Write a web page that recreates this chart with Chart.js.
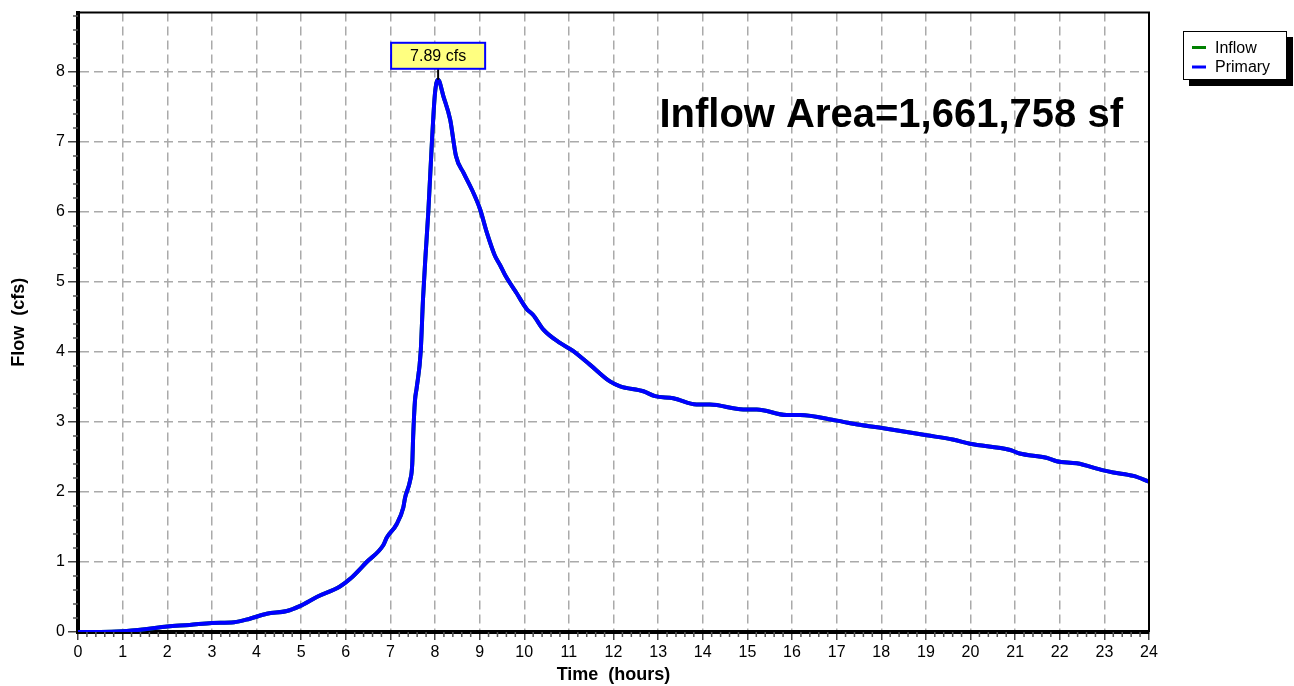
<!DOCTYPE html>
<html>
<head>
<meta charset="utf-8">
<script src="https://cdn.jsdelivr.net/npm/chart.js@4"></script>
<style>
  html, body { margin: 0; background: #fff; }
</style>
</head>
<body>
<canvas id="hydrograph" width="1294" height="686"></canvas>
<script>
// values (hours, cfs)
const hours = [
  0, 0.5, 1.0, 1.5, 2.0, 2.5, 3.0, 3.5, 3.85, 4.23, 4.68, 4.97, 5.35, 5.87, 6.10,
  6.47, 6.84, 6.92, 7.14, 7.29, 7.33, 7.44, 7.49, 7.51, 7.55, 7.59, 7.68, 7.73,
  7.79, 7.85, 7.93, 8.00, 8.07, 8.19, 8.34, 8.47, 8.64, 8.82, 9.01, 9.16, 9.34,
  9.46, 9.57, 9.83, 10.05, 10.20, 10.43, 10.80, 11.06, 11.47, 11.92, 12.15, 12.67,
  12.93, 13.34, 13.86, 14.16, 14.91, 15.21, 15.88, 16.18, 17.0, 17.52, 18.05,
  19.02, 19.6, 19.99, 20.89, 21.1, 21.7, 21.93, 22.38, 22.98, 23.2, 23.65, 24.0
];
const primaryCfs = [
  0, 0, 0.01, 0.04, 0.08, 0.10, 0.13, 0.14, 0.19, 0.26, 0.30, 0.37, 0.50, 0.65, 0.76,
  1.00, 1.24, 1.35, 1.54, 1.78, 1.92, 2.16, 2.40, 2.78, 3.30, 3.49, 4.01, 4.74,
  5.40, 6.00, 6.99, 7.70, 7.89, 7.65, 7.32, 6.80, 6.56, 6.33, 6.04, 5.71, 5.38,
  5.24, 5.10, 4.84, 4.62, 4.53, 4.32, 4.13, 4.03, 3.82, 3.58, 3.51, 3.44,
  3.37, 3.34, 3.25, 3.25, 3.18, 3.18, 3.10, 3.10, 3.02, 2.96, 2.91,
  2.81, 2.75, 2.69, 2.60, 2.55, 2.49, 2.44, 2.41, 2.31, 2.28, 2.23, 2.15
];
// inflow passes straight through, so it sits hidden under the primary line
const inflowCfs = primaryCfs;

const hourTicks = [0, 1, 2, 3, 4, 5, 6, 7, 8, 9, 10, 11, 12, 13, 14, 15, 16, 17, 18, 19, 20, 21, 22, 23, 24];
const flowTicks = [0, 1, 2, 3, 4, 5, 6, 7, 8];

const peakHour = 8.07;
const peakCfs = 7.89;
const peakText = "7.89 cfs";
const areaText = "Inflow Area=1,661,758 sf";

const FONT = "'Liberation Sans', Arial, sans-serif";

const toPoints = (ys) => hours.map((h, i) => ({ x: h, y: ys[i] }));

const extras = {
  id: "extras",
  afterDraw(chart) {
    const { ctx, chartArea: a, scales: { x, y } } = chart;
    ctx.save();

    // thin frame on top and right
    ctx.strokeStyle = "#000";
    ctx.lineWidth = 2;
    ctx.beginPath();
    ctx.moveTo(a.left, a.top);
    ctx.lineTo(a.right, a.top);
    ctx.lineTo(a.right, a.bottom);
    ctx.stroke();

    // minor ticks
    ctx.strokeStyle = "#555";
    ctx.lineWidth = 1.5;
    ctx.beginPath();
    for (let i = 1; i < 24 * 5; i++) {
      if (i % 5 === 0) continue;
      const px = x.getPixelForValue(i / 5);
      ctx.moveTo(px, a.bottom);
      ctx.lineTo(px, a.bottom + 5);
    }
    for (let i = 1; i <= 44; i++) {
      if (i % 5 === 0) continue;
      const py = y.getPixelForValue(i / 5);
      ctx.moveTo(a.left - 5, py);
      ctx.lineTo(a.left, py);
    }
    ctx.stroke();

    // peak callout
    const px = x.getPixelForValue(peakHour);
    const py = y.getPixelForValue(peakCfs);
    ctx.strokeStyle = "#000";
    ctx.lineWidth = 2;
    ctx.beginPath();
    ctx.moveTo(px, py);
    ctx.lineTo(px, py - 12);
    ctx.stroke();
    ctx.font = "16px " + FONT;
    const tw = ctx.measureText(peakText).width;
    const bw = tw + 38, bh = 26;
    ctx.fillStyle = "#ffff80";
    ctx.fillRect(px - bw / 2, py - 37, bw, bh);
    ctx.strokeStyle = "#0000ff";
    ctx.strokeRect(px - bw / 2, py - 37, bw, bh);
    ctx.fillStyle = "#000";
    ctx.textAlign = "center";
    ctx.textBaseline = "middle";
    ctx.fillText(peakText, px, py - 37 + bh / 2 + 1);

    // area note
    ctx.font = "bold 40px " + FONT;
    ctx.textAlign = "right";
    ctx.textBaseline = "alphabetic";
    ctx.fillText(areaText, a.right - 26, a.top + 114);

    // legend with drop shadow
    const lx = a.right + 34, ly = 31, lw = 104, lh = 49;
    ctx.fillStyle = "#000";
    ctx.fillRect(lx + 6, ly + 6, lw, lh);
    ctx.fillStyle = "#fff";
    ctx.fillRect(lx, ly, lw, lh);
    ctx.strokeStyle = "#000";
    ctx.lineWidth = 1;
    ctx.strokeRect(lx + 0.5, ly + 0.5, lw - 1, lh - 1);
    ctx.font = "16px " + FONT;
    ctx.textAlign = "left";
    ctx.textBaseline = "middle";
    chart.data.datasets.forEach((ds, i) => {
      const rowY = ly + 16.5 + i * 19.5;
      ctx.strokeStyle = ds.borderColor;
      ctx.lineWidth = 3;
      ctx.beginPath();
      ctx.moveTo(lx + 9, rowY);
      ctx.lineTo(lx + 23, rowY);
      ctx.stroke();
      ctx.fillStyle = "#000";
      ctx.fillText(ds.label, lx + 32, rowY + 1);
    });

    ctx.restore();
  }
};

new Chart(document.getElementById("hydrograph"), {
  type: "line",
  data: {
    datasets: [
      {
        label: "Inflow",
        data: toPoints(inflowCfs),
        borderColor: "#008000",
        borderWidth: 4,
        pointRadius: 0,
        cubicInterpolationMode: "monotone",
        order: 2
      },
      {
        label: "Primary",
        data: toPoints(primaryCfs),
        borderColor: "#0000ff",
        borderWidth: 4,
        pointRadius: 0,
        cubicInterpolationMode: "monotone",
        order: 1
      }
    ]
  },
  options: {
    responsive: false,
    animation: false,
    layout: { padding: { top: 9, right: 145, left: 0, bottom: 0 } },
    plugins: {
      legend: { display: false },
      tooltip: { enabled: false }
    },
    scales: {
      x: {
        type: "linear",
        min: 0,
        max: 24,
        afterBuildTicks: (s) => { s.ticks = hourTicks.map((v) => ({ value: v })); },
        afterFit: (s) => { s.height = 54; },
        ticks: {
          autoSkip: false,
          maxRotation: 0,
          padding: 3,
          color: "#000",
          font: { family: FONT, size: 16 }
        },
        grid: {
          color: "#aaaaaa",
          lineWidth: 1.5,
          tickLength: 8,
          tickColor: "#444",
          tickWidth: 1.5
        },
        border: { color: "#000", width: 4, dash: [9, 5] },
        title: {
          display: true,
          text: "Time  (hours)",
          color: "#000",
          font: { family: FONT, size: 18, weight: "bold" },
          padding: { top: 0, bottom: 0 }
        }
      },
      y: {
        min: 0,
        max: 8.85,
        afterBuildTicks: (s) => { s.ticks = flowTicks.map((v) => ({ value: v })); },
        afterFit: (s) => { s.width = 78; },
        ticks: {
          padding: 3,
          color: "#000",
          font: { family: FONT, size: 16 }
        },
        grid: {
          color: "#aaaaaa",
          lineWidth: 1.5,
          tickLength: 10,
          tickColor: "#444",
          tickWidth: 1.5
        },
        border: { color: "#000", width: 4, dash: [9, 5] },
        title: {
          display: true,
          text: "Flow  (cfs)",
          color: "#000",
          font: { family: FONT, size: 18, weight: "bold" },
          padding: { top: 8, bottom: 0 }
        }
      }
    }
  },
  plugins: [extras]
});
</script>
</body>
</html>
